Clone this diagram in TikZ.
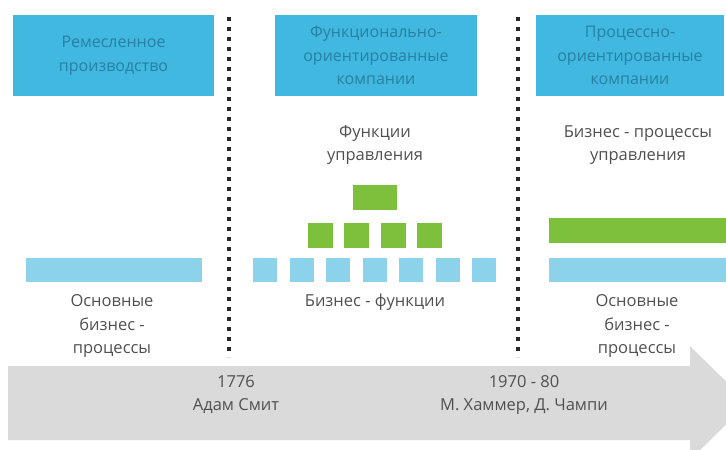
\documentclass[tikz,border=0pt]{standalone}
\usepackage{fontspec}
\setmainfont{Open Sans}
\definecolor{boxblue}{RGB}{64,184,224}
\definecolor{boxtext}{RGB}{40,128,165}
\definecolor{lightblue}{RGB}{140,210,234}
\definecolor{fgreen}{RGB}{125,192,60}
\definecolor{txtgray}{RGB}{80,80,80}
\definecolor{arrowgray}{RGB}{218,218,218}
\tikzset{
  x=1pt, y=-1pt,
  titlebox/.style={text=boxtext, align=center, font=\fontsize{16}{23.5}\selectfont, inner sep=0pt},
  label/.style={text=txtgray, align=center, font=\fontsize{16.5}{23.5}\selectfont, inner sep=0pt},
  tlabel/.style={text=txtgray, align=center, font=\fontsize{16.5}{23}\selectfont, inner sep=0pt},
  gsq/.style={fill=fgreen, draw=none},
  bsq/.style={fill=lightblue, draw=none},
  divider/.style={line width=4pt, dash pattern=on 4pt off 6pt, draw=black!85}
}
\begin{document}
\begin{tikzpicture}
\useasboundingbox (0,0) rectangle (726,450);
\begin{scope}
\clip (0,0) rectangle (726,450);
% timeline arrow
\fill[arrowgray] (8,366) -- (690,366) -- (690,346) -- (748,403) -- (690,460) -- (690,440) -- (8,440) -- cycle;
\end{scope}
% title boxes
\fill[boxblue] (13,15) rectangle (214,96);
\node[titlebox] (t1) at (113.5,55.5) {Ремесленное\\производство};
\fill[boxblue] (275,15) rectangle (477,96);
\node[titlebox] (t2) at (376,55.5) {Функционально-\\ориентированные\\компании};
\fill[boxblue] (536,15) rectangle (724,96);
\node[titlebox] (t3) at (630,55.5) {Процессно-\\ориентированные\\компании};
% dividers
\coordinate (d1a) at (229,17); \coordinate (d1b) at (229,357);
\coordinate (d2a) at (518,17); \coordinate (d2b) at (518,357);
\draw[divider] (d1a) -- (d1b);
\draw[divider] (d2a) -- (d2b);
% left column
\fill[bsq] (26,258) rectangle (202,282);
\node[label] (l1) at (112,326) {Основные\\бизнес -\\процессы};
% middle column
\node[tlabel] (m1) at (375,145) {Функции\\управления};
\fill[gsq] (353,185) rectangle (397,210);
\foreach \x in {308,344,381,417} \fill[gsq] (\x,223) rectangle ++(25,25);
\foreach \x in {253,289.5,326,362.5,399,435.5,472} \fill[bsq] (\x,258) rectangle ++(24,24);
\node[label] (m2) at (375,302) {Бизнес - функции};
% right column
\node[tlabel] (r1) at (638,145) {Бизнес - процессы\\управления};
\fill[gsq] (549,218) rectangle (726,243);
\fill[bsq] (549,258) rectangle (726,282);
\node[label] (r2) at (637,326) {Основные\\бизнес -\\процессы};
% timeline labels
\node[tlabel] (y1) at (236,395) {1776\\Адам Смит};
\node[tlabel] (y2) at (524,395) {1970 - 80\\М. Хаммер, Д. Чампи};
\end{tikzpicture}
\end{document}
